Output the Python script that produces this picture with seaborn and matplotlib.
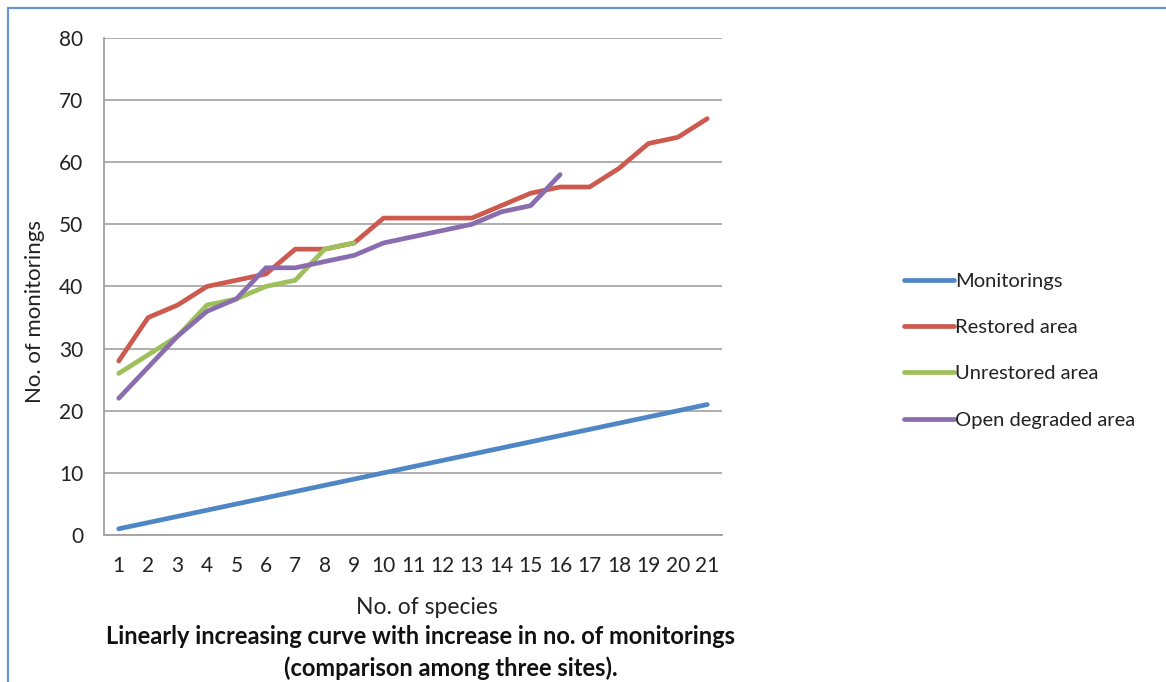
"""Species accumulation vs. monitorings
=====================================
Line chart comparing three sites against the monitoring count.
"""

import numpy as np
import pandas as pd
import seaborn as sns
import matplotlib
matplotlib.use("Agg")
from matplotlib import pyplot as plt
from matplotlib.patches import Rectangle

###############################################################################
# Data (x = no. of species)

species = list(range(1, 22))
monitorings = list(range(1, 22))
restored = [28, 35, 37, 40, 41, 42, 46, 46, 47, 51, 51, 51, 51, 53, 55, 56, 56, 59, 63, 64, 67]
unrestored = [26, 29, 32, 37, 38, 40, 41, 46, 47]
open_degraded = [22, 27, 32, 36, 38, 43, 43, 44, 45, 47, 48, 49, 50, 52, 53, 58]

series_names = ["Monitorings", "Restored area", "Unrestored area", "Open degraded area"]
series_colors = ["#4F86C6", "#CD5A4F", "#9DC05A", "#8A6DAE"]
y_ticks = [0, 10, 20, 30, 40, 50, 60, 70, 80]

# long-form table for seaborn
frames = []
for name, vals in zip(series_names, [monitorings, restored, unrestored, open_degraded]):
    frames.append(pd.DataFrame({"Species": species[:len(vals)], "Value": vals, "Series": name}))
df = pd.concat(frames, ignore_index=True)

###############################################################################
# Plot

sns.set_style("white")
plt.rcParams["font.family"] = ["Lato", "DejaVu Sans"]

fig = plt.figure(figsize=(11.66, 6.82), dpi=100)
ax = fig.add_axes([0.0892, 0.2155, 0.5300, 0.7290])

sns.lineplot(data=df, x="Species", y="Value", hue="Series",
             hue_order=series_names, palette=series_colors,
             linewidth=3.4, legend=False, ax=ax,
             solid_capstyle="round", solid_joinstyle="round")

ax.set_xlim(0.5, 21.5)
ax.set_ylim(0, 80)
ax.set_yticks(y_ticks)
ax.set_xticks(species)
ax.set_xticks(np.arange(0.5, 22, 1), minor=True)
ax.tick_params(axis="x", which="major", length=0, labelsize=15, pad=15, colors="#222222")
ax.tick_params(axis="x", which="minor", length=6, width=1.2, color="#A0A0A0", direction="out")
ax.tick_params(axis="y", length=7, width=1.2, labelsize=15, pad=8, labelcolor="#222222",
               color="#A0A0A0")

ax.yaxis.grid(True, color="#A8A8A8", linewidth=1.3)
ax.set_axisbelow(True)
for side in ["top", "right"]:
    ax.spines[side].set_visible(False)
for side in ["left", "bottom"]:
    ax.spines[side].set_color("#A0A0A0")
    ax.spines[side].set_linewidth(1.3)

ax.set_xlabel("No. of species", fontsize=16.5, color="#222222")
ax.set_ylabel("No. of monitorings", fontsize=16, color="#222222")
ax.xaxis.set_label_coords(0.523, -0.124)
ax.yaxis.set_label_coords(-0.096, 0.449)

# legend on the right
handles = [plt.Line2D([], [], color=c, linewidth=3.4, solid_capstyle="round") for c in series_colors]
fig.legend(handles, series_names, loc="upper left", bbox_to_anchor=(0.768, 0.612),
           frameon=False, fontsize=14.5, handlelength=2.5, handletextpad=0.05,
           labelspacing=1.45, borderaxespad=0, labelcolor="#222222")

# caption
fig.text(0.361, 0.066, "Linearly increasing curve with increase in no. of monitorings",
         ha="center", va="center", fontsize=17, fontweight="bold", color="#111111")
fig.text(0.387, 0.020, "(comparison among three sites).",
         ha="center", va="center", fontsize=17, fontweight="bold", color="#111111")

# thin blue frame along top and left edges
fig.add_artist(Rectangle((8 / 1166, -0.05), 1.2, 1 - 8 / 682 + 0.05, transform=fig.transFigure,
                         fill=False, edgecolor="#6A96CC", linewidth=1.6))

fig.savefig("out.png", dpi=100)
